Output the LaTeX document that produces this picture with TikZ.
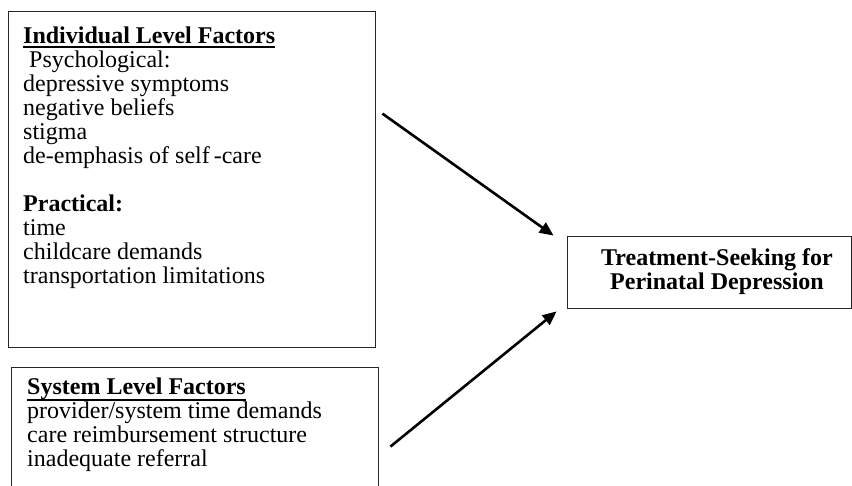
\documentclass[tikz,border=0pt]{standalone}
\usepackage{fontspec}
\setmainfont{Liberation Serif}
\usepackage{tikz}
\usetikzlibrary{positioning}
\usetikzlibrary{arrows.meta}
\newcommand{\ulhead}[2][4.5pt]{\setbox0\hbox{\textbf{#2}}\rlap{\rule[-#1]{\wd0}{2pt}}\box0}

\begin{document}
\begin{tikzpicture}[x=1pt,y=-1pt]
        \tikzstyle{factorbox}=[draw=black!85,line width=0.8pt,inner sep=0pt]
        \tikzstyle{factortext}=[align=left,anchor=north west,inner sep=0pt,
            font=\fontsize{24}{24}\selectfont]
        \tikzstyle{effect}=[line width=2.6pt,-{Triangle[length=14pt,width=12pt]}]
        \useasboundingbox (0,0) rectangle (852,486);

            \node[factorbox, minimum width=367pt, minimum height=336pt] (indiv) at (191.5,179) {};
            \node[factorbox, minimum width=367pt, minimum height=150pt] (system) at (194.5,442) {};
            \node[factorbox, minimum width=284pt, minimum height=72pt] (outcome) at (709,272) {};

            \node[factortext] (indivtext) at (23,26.2) {\strut\ulhead{Individual Level Factors}\\
                \hspace{6pt}Psychological:\\
                depressive symptoms\\
                negative beliefs\\
                stigma\\
                de-emphasis of self\,-care\\[24pt]
                \textbf{Practical:}\\
                time\\
                childcare demands\\
                transportation limitations};
            \node[factortext] (systemtext) at (27,377.2) {\strut\ulhead[7pt]{System Level Factors}\\
                provider/system time demands\\
                care reimbursement structure\\
                inadequate referral};
            \node[font=\bfseries\fontsize{24}{24}\selectfont, align=center, inner sep=0pt]
                (outcometext) at (717,272) {Treatment-Seeking for\\Perinatal Depression};

            \draw[effect] ([shift={(7,103)}]indiv.north east) -- ([shift={(-13,0)}]outcome.north west);
            \draw[effect] ([shift={(12,80)}]system.north east) -- ([shift={(-10,3)}]outcome.south west);
        \end{tikzpicture}
\end{document}
